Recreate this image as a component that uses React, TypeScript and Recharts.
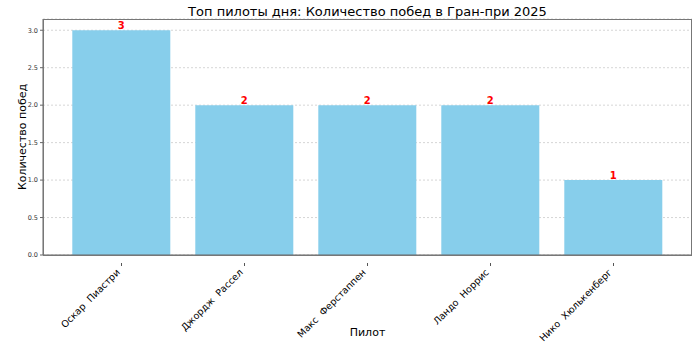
import { BarChart, Bar, XAxis, YAxis, CartesianGrid, LabelList } from "recharts";

const pilots = ["Оскар Пиастри", "Джордж Рассел", "Макс Ферстаппен", "Ландо Норрис", "Нико Хюлькенберг"];
const wins = [3, 2, 2, 2, 1];
const yTicks = [0, 0.5, 1, 1.5, 2, 2.5, 3];

const data = pilots.map((name, i) => ({ name, wins: wins[i] }));

const font = "DejaVu Sans, sans-serif";

const XTick = (props: any) => {
  const { x, y, payload } = props;
  return (
    <g transform={`translate(${x},${y})`}>
      <line x1={0} y1={0} x2={0} y2={3} stroke="#555" />
      <text
        x={0}
        y={0}
        transform="translate(-1,10) rotate(-45)"
        textAnchor="end"
        fontSize={9.5}
        fontFamily={font}
        fill="#000"
      >
        {payload.value.replace(" ", "\u00a0\u00a0")}
      </text>
    </g>
  );
};

export default function App() {
  return (
    <div style={{ position: "absolute", left: 0, top: 0, width: 700, height: 350, background: "#fff", fontFamily: font }}>
      <div style={{ position: "absolute", left: 43, width: 649, top: 4, textAlign: "center", fontSize: 13, color: "#000" }}>
        Топ пилоты дня: Количество побед в Гран-при 2025
      </div>
      <div style={{ position: "absolute", left: 43, width: 649, top: 326, textAlign: "center", fontSize: 11, color: "#000" }}>
        Пилот
      </div>
      <div
        style={{
          position: "absolute",
          left: 22,
          top: 137,
          transform: "translate(-50%, -50%) rotate(-90deg)",
          whiteSpace: "nowrap",
          fontSize: 11,
          color: "#000",
        }}
      >
        Количество побед
      </div>
      <BarChart
        width={700}
        height={350}
        data={data}
        margin={{ top: 19, right: 8, bottom: 0, left: 0 }}
        barCategoryGap="10%"
      >
        <CartesianGrid vertical={false} stroke="#bbb" strokeDasharray="2 2" strokeWidth={0.6} />
        <XAxis
          dataKey="name"
          interval={0}
          padding={{ left: 17, right: 17 }}
          tick={<XTick />}
          tickLine={false}
          axisLine={{ stroke: "#666" }}
          height={95}
        />
        <YAxis
          width={43}
          domain={[0, 3.15]}
          ticks={yTicks}
          tickFormatter={(v: number) => v.toFixed(1)}
          tick={{ fontSize: 6.5, fill: "#333", fontFamily: font }}
          tickSize={3}
          tickLine={{ stroke: "#666" }}
          axisLine={{ stroke: "#666" }}
          allowDataOverflow
        />
        <Bar dataKey="wins" fill="#87CEEB" isAnimationActive={false}>
          <LabelList
            dataKey="wins"
            position="top"
            offset={1}
            fill="#ff0000"
            fontSize={10}
            fontWeight="bold"
            fontFamily={font}
          />
        </Bar>
      </BarChart>
      <div
        style={{
          position: "absolute",
          left: 43,
          top: 19,
          width: 649,
          height: 236.5,
          border: "1px solid #777",
          boxSizing: "border-box",
          pointerEvents: "none",
        }}
      />
    </div>
  );
}
